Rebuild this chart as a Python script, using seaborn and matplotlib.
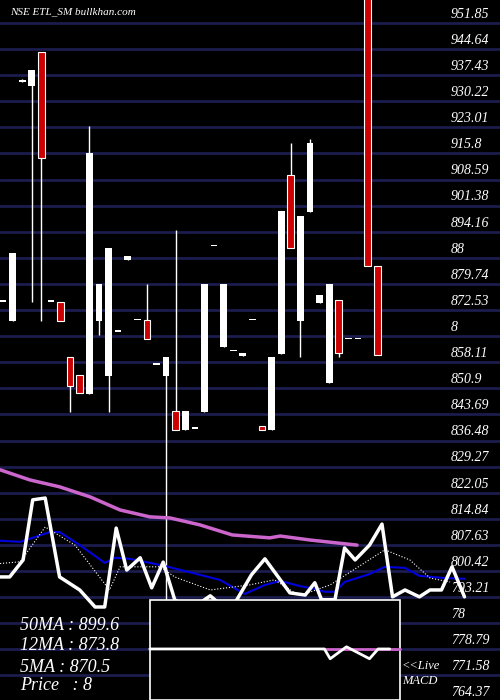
import numpy as np
import pandas as pd
import matplotlib
matplotlib.use("Agg")
import matplotlib.pyplot as plt
import seaborn as sns

# candles: open, high, low, close (price units)
opens  = [874.8, 869.5, 935.5, 934.4, 943.8, 874.8, 874.8, 859.6, 854.6, 849.4,
          869.5, 854.3, 866.5, 886.4, 869.8, 869.8, 857.4, 854.3, 839.4, 839.4,
          839.7, 844.4, 890.2, 862.3, 861.2, 859.9, 869.8, 840.5, 839.4, 860.4,
          909.9, 869.5, 899.6, 874.5, 852.4, 875.3, 864.55, 864.55, 960.0, 884.7]
highs  = [874.8, 888.3, 936.4, 938.9, 943.8, 874.8, 874.8, 859.6, 854.6, 923.4,
          879.75, 888.3, 866.5, 887.5, 869.8, 879.75, 857.4, 859.6, 894.7, 844.7,
          839.7, 879.75, 890.2, 879.75, 861.2, 860.7, 869.8, 840.5, 859.6, 899.9,
          918.7, 898.5, 919.8, 876.7, 879.75, 875.3, 864.55, 864.55, 960.0, 884.7]
lows   = [874.8, 869.5, 935.5, 874.8, 869.5, 874.8, 869.5, 844.4, 849.6, 849.4,
          865.7, 844.4, 866.5, 886.4, 869.8, 864.55, 857.4, 792.5, 839.4, 839.4,
          839.7, 844.4, 890.2, 862.3, 861.2, 859.9, 869.8, 839.4, 839.4, 860.4,
          889.7, 859.6, 899.6, 874.5, 852.4, 859.6, 864.55, 864.55, 884.7, 860.1]
closes = [874.8, 888.3, 936.1, 938.9, 914.55, 874.8, 869.5, 851.6, 849.6, 915.9,
          879.75, 889.7, 866.5, 887.5, 869.8, 864.55, 857.4, 859.6, 844.7, 844.7,
          839.7, 879.75, 890.2, 879.75, 861.2, 860.7, 869.8, 839.4, 859.6, 899.9,
          889.7, 898.5, 918.7, 876.7, 879.75, 860.7, 864.55, 864.55, 884.7, 860.1]
red = [False, False, False, False, True, False, True, True, True, False,
       False, False, False, False, False, True, False, False, True, False,
       False, False, False, False, False, False, False, True, False, False,
       True, False, False, False, False, True, False, False, True, True]

# moving averages and lower indicator (day position, price)
ma50_x = [-0.3, 2.8, 5.9, 9.1, 12.2, 15.3, 17.4, 20.5, 23.9, 27.8, 28.9, 32.0, 36.9]
ma50_y = [828.4, 825.6, 823.7, 820.9, 817.3, 815.4, 815.1, 813.2, 810.4, 809.6, 810.1, 809.0, 807.6]
ma12_x = [-0.3, 1.8, 4.9, 5.9, 8.0, 10.6, 11.7, 13.2, 15.3, 16.9, 20.5, 22.6, 25.2, 27.3,
          28.9, 30.9, 32.5, 33.5, 34.6, 35.6, 38.2, 39.8, 41.9, 43.4, 46.0, 48.1]
ma12_y = [808.8, 808.5, 811.2, 811.2, 807.6, 802.7, 804.1, 803.8, 802.7, 801.8, 799.4, 798.0,
          794.1, 796.6, 797.7, 796.3, 795.5, 794.7, 794.7, 797.4, 799.6, 801.6, 801.3, 799.1,
          798.5, 798.3]
px_x = [-0.3, 0.7, 2.1, 3.1, 4.4, 5.9, 8.0, 9.6, 10.6, 11.8, 12.9, 14.3, 15.5, 16.7, 17.9,
        19.5, 21.6, 23.6, 25.9, 27.3, 29.9, 31.5, 32.5, 33.2, 34.6, 35.6, 36.7, 38.2, 39.5,
        40.6, 41.9, 43.4, 44.5, 45.7, 46.8, 48.1]
px_y = [798.8, 798.8, 803.5, 820.1, 820.6, 798.8, 795.2, 790.5, 790.5, 812.3, 800.7, 804.1,
        795.8, 802.9, 792.5, 789.7, 793.6, 789.0, 799.4, 803.8, 794.4, 793.8, 797.2, 792.5,
        792.5, 806.8, 803.5, 807.6, 813.4, 793.3, 795.2, 793.3, 795.2, 795.2, 801.6, 793.3]
ma5_x = [-0.3, 1.8, 4.4, 7.5, 11.1, 12.2, 16.4, 17.9, 21.6, 25.7, 28.3, 30.9, 34.1, 39.8,
         42.4, 44.5, 46.6]
ma5_y = [802.5, 803.0, 812.6, 807.6, 795.2, 801.6, 801.6, 798.8, 795.2, 796.6, 798.0, 793.6,
         796.6, 806.3, 803.5, 798.5, 797.4]
macd_x = [15.3, 33.5, 34.1, 35.8, 38.2, 39.1, 40.3]
macd_y = [778.9, 778.9, 776.2, 779.5, 776.2, 778.9, 778.9]

ticks = [951.85, 944.64, 937.43, 930.22, 923.01, 915.8, 908.59, 901.38, 894.16, 886.95,
         879.74, 872.53, 865.32, 858.11, 850.9, 843.69, 836.48, 829.27, 822.05, 814.84,
         807.63, 800.42, 793.21, 786.0, 778.79, 771.58, 764.37]
tick_labels = ["951.85", "944.64", "937.43", "930.22", "923.01", "915.8", "908.59", "901.38",
               "894.16", "88", "879.74", "872.53", "8", "858.11", "850.9", "843.69", "836.48",
               "829.27", "822.05", "814.84", "807.63", "800.42", "793.21", "78", "778.79",
               "771.58", "764.37"]

sns.set_style("dark")
plt.rcParams['font.family'] = ['Liberation Serif', 'DejaVu Serif']
fig = plt.figure(figsize=(5, 7), dpi=100, facecolor="black")
ax = fig.add_axes([0, 0, 1, 1])
ax.set_facecolor("black")
ax.set_xlim(-0.31, 51.8)
ax.set_ylim(764.8, 958.2)
ax.axis("off")

for t, lab in zip(ticks, tick_labels):
    ax.axhline(t, color="#1c1c4e", lw=2, zorder=1)
    ax.text(46.7, t + 2.4, lab, color="white", style="italic", fontsize=10, va="center")

# candles
days = np.arange(len(opens))
for d, o, h, l, c, r in zip(days, opens, highs, lows, closes, red):
    ax.vlines(d, l, h, color="white", lw=1, zorder=3)
    lo, hi = min(o, c), max(o, c)
    hgt = max(hi - lo, 0.4)
    ax.bar(d, hgt, bottom=lo, width=0.7, color="#cc0000" if r else "white",
           edgecolor="white", linewidth=0.8 if r else 0, zorder=4)

sns.lineplot(x=ma50_x, y=ma50_y, ax=ax, color="#cc66cc", lw=2.5, zorder=5, estimator=None, sort=False)
sns.lineplot(x=ma12_x, y=ma12_y, ax=ax, color="#0000dd", lw=1.5, zorder=5, estimator=None, sort=False)
sns.lineplot(x=ma5_x, y=ma5_y, ax=ax, color="white", lw=0.8, ls=":", zorder=5, estimator=None, sort=False)
sns.lineplot(x=px_x, y=px_y, ax=ax, color="white", lw=2.5, zorder=5, estimator=None, sort=False)

# MACD box
box = plt.Rectangle((0.3, 0.0), 0.5, 100 / 700, transform=ax.transAxes,
                    facecolor="black", edgecolor="white", lw=1.2, zorder=6)
ax.add_patch(box)
ax.plot([33.5, 41.4], [778.9, 778.9], color="#cc66cc", lw=2, zorder=7)
ax.plot(macd_x, macd_y, color="white", lw=2, zorder=7)

ax.text(0.02, 0.983, "NSE ETL_SM bullkhan.com", transform=ax.transAxes, color="white",
        style="italic", fontsize=8, va="center")
for yy, s in [(625, "50MA : 899.6"), (645, "12MA : 873.8"), (667, "5MA : 870.5"), (685, "Price   : 8")]:
    ax.text(0.04, 1 - yy / 700, s, transform=ax.transAxes, color="white", style="italic",
            fontsize=13, va="center", zorder=8)
ax.text(0.804, 1 - 666 / 700, "<<Live", transform=ax.transAxes, color="white", style="italic",
        fontsize=9, va="center", zorder=8)
ax.text(0.804, 1 - 681 / 700, "MACD", transform=ax.transAxes, color="white", style="italic",
        fontsize=9, va="center", zorder=8)

fig.savefig("out.png", dpi=100, facecolor="black")
